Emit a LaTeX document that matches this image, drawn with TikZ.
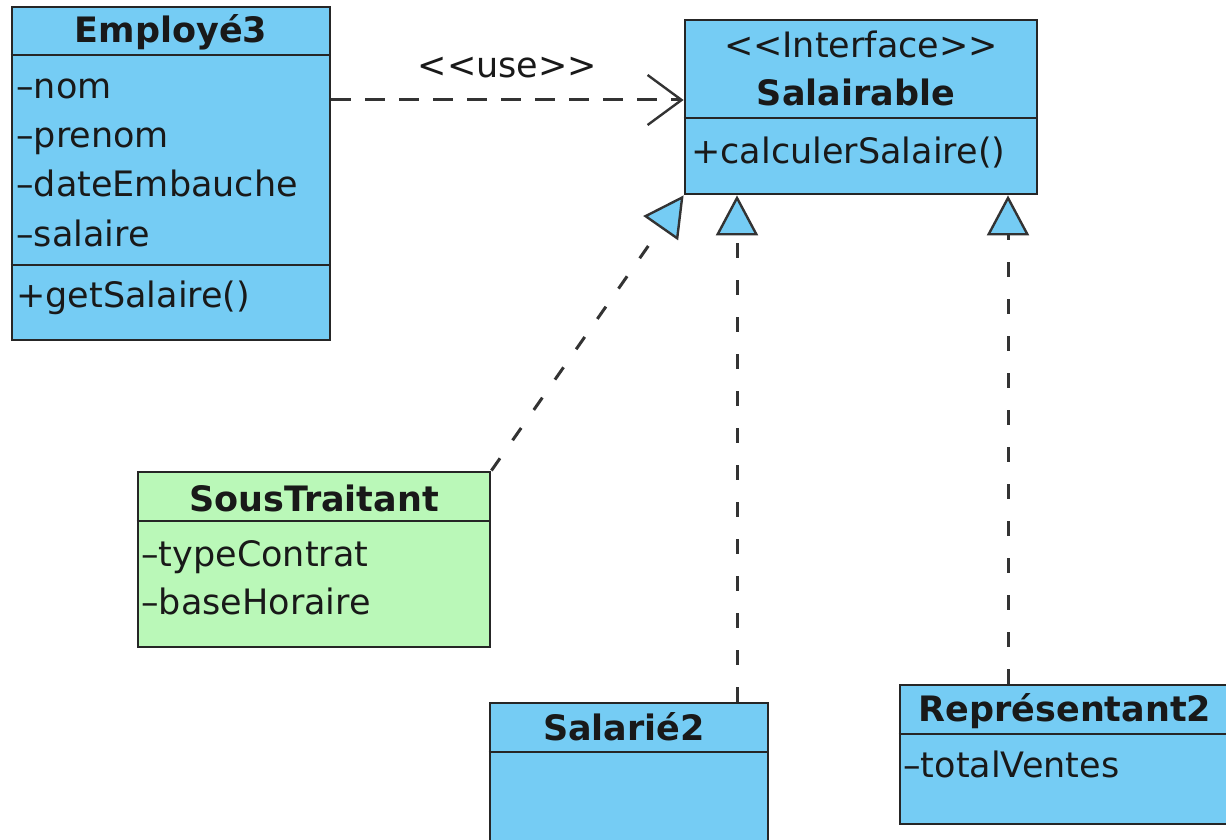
\documentclass[tikz,border=0pt]{standalone}
\usepackage{fontspec}
\setmainfont{DejaVu Sans}
\usetikzlibrary{arrows.meta}
\definecolor{umlblue}{RGB}{117,204,244}
\definecolor{umlgreen}{RGB}{186,248,184}
\begin{document}
\begin{tikzpicture}[x=0.5pt,y=-0.5pt,
    every node/.style={font=\fontsize{17.5}{21}\selectfont,text=black!90,inner sep=0pt},
    classbox/.style={draw=black!85,line width=1.4pt,fill=umlblue},
    sepline/.style={draw=black!85,line width=1.4pt},
    attr/.style={anchor=base west},
    cname/.style={anchor=base,font=\fontsize{17.5}{21}\selectfont\bfseries},
    use/.style={line width=1.5pt,draw=black!80,dash pattern=on 10pt off 7pt,
        -{Straight Barb[length=17pt,width=25pt,line width=1.2pt]}},
    realize/.style={line width=1.5pt,draw=black!80,dash pattern=on 7.5pt off 11pt,
        -{Triangle[fill=umlblue,length=20pt,width=21pt,line width=1.2pt]}}]
    \useasboundingbox (0,0) rectangle (1226,840);
    \clip (0,0) rectangle (1226,840);
    % Employé3
    \node[classbox,minimum width=159pt,minimum height=166.5pt] (emp) at (171,173.5) {};
    \draw[sepline] (emp.west |- 0,55) -- (emp.east |- 0,55);
    \draw[sepline] (emp.west |- 0,265) -- (emp.east |- 0,265);
    \node[cname] (empname) at (171,43) {Employé3};
    \foreach \a/\y in {nom/99,prenom/148,dateEmbauche/197,salaire/246}
        \node[attr] (emp-\a) at (16,\y) {--\a};
    \node[attr] (emp-get) at (16,307) {+getSalaire()};
    % Salairable
    \node[classbox,minimum width=176pt,minimum height=87pt] (sala) at (861,107) {};
    \draw[sepline] (sala.west |- 0,118) -- (sala.east |- 0,118);
    \node[anchor=base] (salaster) at (861,58) {<{}<Interface>{}>};
    \node[cname] (salaname) at (856,106) {Salairable};
    \node[attr] (sala-calc) at (691,163) {+calculerSalaire()};
    % SousTraitant
    \node[classbox,fill=umlgreen,minimum width=176pt,minimum height=87.5pt] (sous) at (314,559.5) {};
    \draw[sepline] (sous.west |- 0,521) -- (sous.east |- 0,521);
    \node[cname] (sousname) at (314,511) {SousTraitant};
    \node[attr] (sous-type) at (141,566) {--typeContrat};
    \node[attr] (sous-base) at (141,614) {--baseHoraire};
    % Salarié2
    \node[classbox,minimum width=139pt,minimum height=73.5pt] (sal) at (629,776.5) {};
    \draw[sepline] (sal.west |- 0,752) -- (sal.east |- 0,752);
    \node[cname] (salname) at (624,740) {Salarié2};
    % Représentant2
    \node[classbox,minimum width=165pt,minimum height=69.5pt] (rep) at (1065,754.5) {};
    \draw[sepline] (rep.west |- 0,734) -- (rep.east |- 0,734);
    \node[cname] (repname) at (1065,721) {Représentant2};
    \node[attr] (rep-total) at (903,777) {--totalVentes};
    % liens
    \draw[use] (emp.east |- 0,100) -- (sala.west |- 0,100)
        node[midway,anchor=base,yshift=11pt] (uselabel) {<{}<use>{}>};
    \draw[realize] (sous.north east) -- (sala.south west);
    \draw[realize] (sal.north -| 737,0) -- (sala.south -| 737,0);
    \draw[realize] (rep.north -| 1008,0) -- (sala.south -| 1008,0);
\end{tikzpicture}
\end{document}
